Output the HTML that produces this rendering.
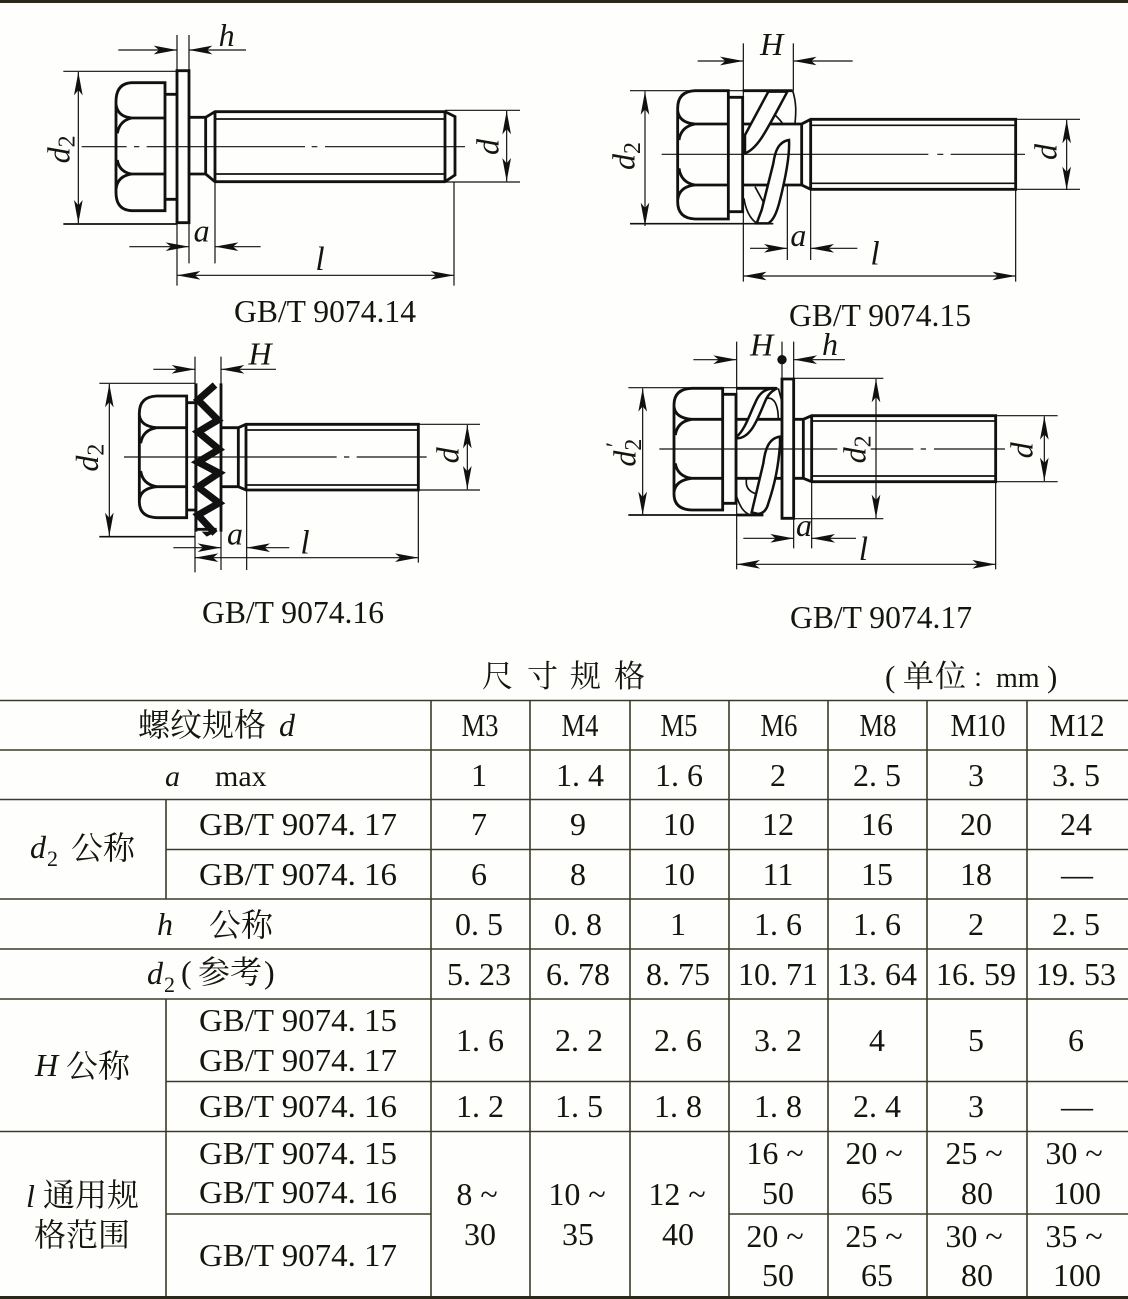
<!DOCTYPE html>
<html><head><meta charset="utf-8">
<style>
html,body{margin:0;padding:0;background:#fefefc}
svg{display:block}
text{font-family:"Liberation Serif","Noto Serif CJK SC",serif;fill:#15150f}
.i{font-style:italic}
.f line,.f path{fill:none;stroke:#111}
.k{stroke-width:8.5}
.m{stroke-width:5}
.t{stroke-width:3.6}
.f path.w{fill:#fefefc;stroke-width:7.5}
.tb{font-size:32px}
</style></head>
<body>
<svg xmlns="http://www.w3.org/2000/svg" width="1128" height="1299" viewBox="0 0 1128 1299">
<defs>
<marker id="ar" markerUnits="userSpaceOnUse" markerWidth="72" markerHeight="30" refX="70" refY="15" orient="auto"><path d="M70 15 L0 2 L16 15 L0 28Z" style="fill:#111;stroke:none"/></marker>
<marker id="as" markerUnits="userSpaceOnUse" markerWidth="72" markerHeight="30" refX="70" refY="15" orient="auto-start-reverse"><path d="M70 15 L0 2 L16 15 L0 28Z" style="fill:#111;stroke:none"/></marker>
</defs>
<rect width="1128" height="1299" fill="#fefefc"/>
<rect x="0" y="0" width="1128" height="3" fill="#2a281a"/>

<!-- FIG 1 -->
<g class="f" transform="translate(30,0) scale(.33333)">
<path class="k" d="M405 248H305Q258 250 258 305V577Q258 630 305 632H405ZM258 312Q262 350 305 354H405M262 400Q268 362 305 354M262 480Q268 516 305 522H405M258 568Q262 528 305 522"/>
<path class="k" d="M405 283H441M405 598H441"/>
<path class="k" d="M441 212H477V668H441Z"/>
<path class="k" d="M477 352H527M477 522H527M527 352V522M527 352L555 335H1245L1275 350V525L1245 545H555L527 522M555 335V545M1245 335V545"/>
<path class="m" d="M555 357H1245M555 522H1245"/>
<path class="t" d="M155 440H290M312 440H328M350 440H825M845 440H862M885 440H1305"/>
<path class="t" d="M441 105V857M477 105V790M555 545V790M1272 545V857M100 214H441M1245 331H1470M1245 546H1470"/>
<path class="m" d="M100 672H441"/>
<line class="t" x1="265" y1="150" x2="441" y2="150" marker-end="url(#ar)"/>
<line class="t" x1="648" y1="150" x2="477" y2="150" marker-end="url(#ar)"/>
<line class="t" x1="145" y1="216" x2="145" y2="670" marker-start="url(#as)" marker-end="url(#as)"/>
<line class="t" x1="1430" y1="333" x2="1430" y2="544" marker-start="url(#as)" marker-end="url(#as)"/>
<line class="t" x1="298" y1="740" x2="477" y2="740" marker-end="url(#ar)"/>
<line class="t" x1="692" y1="740" x2="555" y2="740" marker-end="url(#ar)"/>
<line class="t" x1="441" y1="826" x2="1272" y2="826" marker-start="url(#as)" marker-end="url(#as)"/>
<text class="i" font-size="96" x="590" y="138" text-anchor="middle">h</text>
<text class="i" font-size="96" x="515" y="725" text-anchor="middle">a</text>
<text class="i" font-size="100" x="870" y="810" text-anchor="middle">l</text>
<text class="i" font-size="96" transform="translate(1405,465) rotate(-90)">d</text>
<text class="i" font-size="96" transform="translate(118,490) rotate(-90)">d<tspan font-size="72" font-style="normal" dy="16">2</tspan></text>
</g>
<text x="325" y="322" font-size="31.5" text-anchor="middle" textLength="182" lengthAdjust="spacingAndGlyphs">GB/T 9074.14</text>

<!-- FIG 2 -->
<g class="f" transform="translate(590,20) scale(.33333)">
<path class="k" d="M415 212H315Q263 214 263 265V545Q263 595 315 597H415ZM263 272Q267 308 315 312H415M267 360Q273 320 315 312M267 445Q273 488 315 495H415M263 540Q267 500 315 495"/>
<path class="k" d="M415 232H458V575H415"/>
<path class="k" d="M458 312H635M458 495H640M635 312V495M635 312L662 298H1277V508H662L635 495M662 298V508"/>
<path class="m" d="M662 316H1277M662 490H1277"/>
<path class="m" d="M540 270C555 285 572 300 577 310M608 212C620 250 618 280 615 310"/>
<path class="m" d="M495 500L525 555M462 535C467 570 480 595 500 610"/>
<path class="w" d="M465 345L535 215H592C530 330 505 385 465 400Z"/>
<path class="w" d="M597 360C565 365 555 395 550 430L515 570L500 610H535C550 600 560 580 570 540C585 480 600 410 597 360Z"/>
<path class="k" d="M458 212H608"/>
<path class="t" d="M215 403H1015M1042 403H1060M1082 403H1305"/>
<path class="t" d="M460 70V785M610 70V212M592 495V720M662 508V720M1277 298V785M120 212H460M1277 298H1470M1277 508H1470"/>
<path class="m" d="M120 611H550"/>
<line class="t" x1="323" y1="123" x2="460" y2="123" marker-end="url(#ar)"/>
<line class="t" x1="788" y1="123" x2="610" y2="123" marker-end="url(#ar)"/>
<line class="t" x1="165" y1="214" x2="165" y2="618" marker-start="url(#as)" marker-end="url(#as)"/>
<line class="t" x1="1430" y1="300" x2="1430" y2="510" marker-start="url(#as)" marker-end="url(#as)"/>
<line class="t" x1="480" y1="685" x2="592" y2="685" marker-end="url(#ar)"/>
<line class="t" x1="802" y1="685" x2="662" y2="685" marker-end="url(#ar)"/>
<line class="t" x1="460" y1="768" x2="1277" y2="768" marker-start="url(#as)" marker-end="url(#as)"/>
<text class="i" font-size="96" x="545" y="105" text-anchor="middle">H</text>
<text class="i" font-size="96" x="625" y="678" text-anchor="middle">a</text>
<text class="i" font-size="100" x="855" y="733" text-anchor="middle">l</text>
<text class="i" font-size="96" transform="translate(1400,420) rotate(-90)">d</text>
<text class="i" font-size="96" transform="translate(134,450) rotate(-90)">d<tspan font-size="72" font-style="normal" dy="16">2</tspan></text>
</g>
<text x="880" y="326" font-size="31.5" text-anchor="middle" textLength="182" lengthAdjust="spacingAndGlyphs">GB/T 9074.15</text>

<!-- FIG 3 -->
<g class="f" transform="translate(60,335) scale(.33333)">
<path class="k" d="M380 183H290Q238 185 238 235V500Q238 546 290 548H380ZM238 240Q242 274 290 278H380M242 325Q248 285 290 278M242 408Q248 448 290 455H380M238 495Q242 460 290 455"/>
<path class="k" d="M380 203H405M380 525H405"/>
<path class="k" d="M408 145V590M483 145V590"/>
<path d="M465 150L414 195L474 255L414 291L477 343L414 381L477 414L414 456L477 504L414 540L465 595" style="stroke-width:21;stroke:#111;fill:none;stroke-linejoin:miter"/>
<path d="M470 590L440 605L425 590Z" style="fill:#111;stroke:none"/>
<path class="k" d="M408 583H470"/>
<path class="k" d="M483 278H535M483 455H535M535 278V455M535 278L558 268H1075V465H558L535 455M558 268V465"/>
<path class="m" d="M558 285H1075M558 450H1075"/>
<path class="t" d="M192 366H830M852 366H868M890 366H1100"/>
<path class="t" d="M405 65V712M483 65V705M560 465V705M1075 465V683M118 145H405M1075 268H1260M1075 465H1260"/>
<path class="m" d="M118 605H405"/>
<line class="t" x1="280" y1="103" x2="405" y2="103" marker-end="url(#ar)"/>
<line class="t" x1="648" y1="103" x2="483" y2="103" marker-end="url(#ar)"/>
<line class="t" x1="148" y1="147" x2="148" y2="603" marker-start="url(#as)" marker-end="url(#as)"/>
<line class="t" x1="1222" y1="270" x2="1222" y2="463" marker-start="url(#as)" marker-end="url(#as)"/>
<line class="t" x1="340" y1="638" x2="483" y2="638" marker-end="url(#ar)"/>
<line class="t" x1="688" y1="638" x2="560" y2="638" marker-end="url(#ar)"/>
<line class="t" x1="405" y1="668" x2="1075" y2="668" marker-start="url(#as)" marker-end="url(#as)"/>
<text class="i" font-size="96" x="600" y="88" text-anchor="middle">H</text>
<text class="i" font-size="96" x="525" y="628" text-anchor="middle">a</text>
<text class="i" font-size="100" x="735" y="655" text-anchor="middle">l</text>
<text class="i" font-size="96" transform="translate(1195,385) rotate(-90)">d</text>
<text class="i" font-size="96" transform="translate(114,410) rotate(-90)">d<tspan font-size="72" font-style="normal" dy="16">2</tspan></text>
</g>
<text x="293" y="623" font-size="31.5" text-anchor="middle" textLength="182" lengthAdjust="spacingAndGlyphs">GB/T 9074.16</text>

<!-- FIG 4 -->
<g class="f" transform="translate(600,335) scale(.33333)">
<path class="k" d="M368 160H275Q222 162 222 210V477Q222 523 275 525H368ZM222 215Q226 249 275 253H368M226 300Q232 260 275 253M226 385Q232 424 275 430H368M222 472Q226 436 275 430"/>
<path class="k" d="M368 178H408V505H368"/>
<path class="k" d="M546 132H581V550H546Z"/>
<path class="k" d="M408 253H546M408 430H546M581 253H610M581 430H610M610 253V430M610 253L635 242H1187V440H635L610 430M635 242V440"/>
<path class="m" d="M635 258H1187M635 423H1187"/>
<path class="m" d="M500 190C525 185 535 215 535 255M410 485C420 515 430 530 445 537M440 430C435 455 445 470 470 477M535 160L547 205"/>
<path class="w" d="M410 305C435 285 450 235 465 205C475 180 490 160 525 160H532C520 165 505 175 495 200C475 245 455 310 410 310Z"/>
<path class="w" d="M540 305C505 310 495 345 490 385L455 532L475 537C490 535 500 525 505 505C525 445 535 395 540 330Z"/>
<path class="k" d="M410 160H530M410 540H490"/>
<path class="t" d="M178 342H712M812 342H940M962 342H978M1002 342H1215"/>
<path class="t" d="M410 20V703M546 20V132M581 20V640M635 440V640M1187 440V703M85 158H530M581 130H850M1187 242H1373M1187 440H1373M546 551H850"/>
<path class="m" d="M85 540H490"/>
<circle cx="546" cy="74" r="14" style="fill:#111"/>
<line class="t" x1="280" y1="74" x2="410" y2="74" marker-end="url(#ar)"/>
<line class="t" x1="735" y1="74" x2="581" y2="74" marker-end="url(#ar)"/>
<line class="t" x1="128" y1="160" x2="128" y2="540" marker-start="url(#as)" marker-end="url(#as)"/>
<line class="t" x1="828" y1="132" x2="828" y2="549" marker-start="url(#as)" marker-end="url(#as)"/>
<line class="t" x1="1333" y1="244" x2="1333" y2="438" marker-start="url(#as)" marker-end="url(#as)"/>
<line class="t" x1="430" y1="610" x2="581" y2="610" marker-end="url(#ar)"/>
<line class="t" x1="768" y1="610" x2="635" y2="610" marker-end="url(#ar)"/>
<line class="t" x1="410" y1="688" x2="1187" y2="688" marker-start="url(#as)" marker-end="url(#as)"/>
<text class="i" font-size="96" x="485" y="62" text-anchor="middle">H</text>
<text class="i" font-size="96" x="690" y="60" text-anchor="middle">h</text>
<text class="i" font-size="96" x="612" y="603" text-anchor="middle">a</text>
<text class="i" font-size="100" x="790" y="675" text-anchor="middle">l</text>
<text class="i" font-size="96" transform="translate(1298,370) rotate(-90)">d</text>
<text class="i" font-size="96" transform="translate(796,385) rotate(-90)">d<tspan font-size="72" font-style="normal" dy="16">2</tspan></text>
<text class="i" font-size="96" transform="translate(107,395) rotate(-90)">d<tspan font-size="72" font-style="normal" dy="16">2</tspan><tspan font-size="72" dx="-30" dy="-56">′</tspan></text>
</g>
<text x="881" y="628" font-size="31.5" text-anchor="middle" textLength="182" lengthAdjust="spacingAndGlyphs">GB/T 9074.17</text>

<!-- TITLE -->
<g font-size="31">
<text x="482" y="687">尺</text><text x="527" y="687">寸</text><text x="570" y="687">规</text><text x="614" y="687">格</text>
<text x="885" y="687">(</text><text x="903" y="687">单</text><text x="935" y="687">位</text>
<text x="972" y="687" font-size="26">：</text><text x="996" y="687" font-size="28">mm</text><text x="1047" y="687">)</text>
</g>

<!-- TABLE LINES -->
<g stroke="#3c3b2a" stroke-width="1.6" fill="none">
<path d="M0 700.5H1128M0 750H1128M0 799.5H1128M166 849.5H1128M0 899H1128M0 949H1128M0 999H1128M166 1081.5H1128M0 1131.5H1128M166 1214H431M729 1214H1128"/>
<path d="M431 700V1297M530 700V1297M630 700V1297M729 700V1297M828 700V1297M927 700V1297M1027 700V1297M166 799.5V899M166 999V1297"/>
</g>
<rect x="0" y="1296" width="1128" height="3" fill="#2a281a"/>

<!-- TABLE LEFT LABELS -->
<g class="tb">
<text x="138" y="736">螺纹规格</text><text class="i" x="279" y="736">d</text>
<text class="i" x="165" y="786" font-size="30">a</text><text x="215" y="786" font-size="30">max</text>
<text class="i" x="30" y="858">d</text><text x="47" y="866" font-size="22">2</text><text x="71" y="859">公称</text>
<text class="i" x="157" y="935">h</text><text x="209" y="936">公称</text>
<text class="i" x="147" y="984">d</text><text x="164" y="992" font-size="22">2</text><text x="181" y="983">(</text><text x="198" y="983">参考</text><text x="264" y="983">)</text>
<text class="i" x="35" y="1076">H</text><text x="66" y="1077">公称</text>
<text class="i" x="26" y="1207">l</text><text x="43" y="1206">通用规</text>
<text x="34" y="1246">格范围</text>
</g>
<g class="tb" text-anchor="middle">
<g font-size="32">
<text x="298" y="835" textLength="198" lengthAdjust="spacingAndGlyphs">GB/T 9074. 17</text>
<text x="298" y="885" textLength="198" lengthAdjust="spacingAndGlyphs">GB/T 9074. 16</text>
<text x="298" y="1031" textLength="198" lengthAdjust="spacingAndGlyphs">GB/T 9074. 15</text>
<text x="298" y="1071" textLength="198" lengthAdjust="spacingAndGlyphs">GB/T 9074. 17</text>
<text x="298" y="1117" textLength="198" lengthAdjust="spacingAndGlyphs">GB/T 9074. 16</text>
<text x="298" y="1164" textLength="198" lengthAdjust="spacingAndGlyphs">GB/T 9074. 15</text>
<text x="298" y="1203" textLength="198" lengthAdjust="spacingAndGlyphs">GB/T 9074. 16</text>
<text x="298" y="1266" textLength="198" lengthAdjust="spacingAndGlyphs">GB/T 9074. 17</text>
</g>
<!-- header -->
<text x="480" y="736" textLength="37" lengthAdjust="spacingAndGlyphs">M3</text>
<text x="580" y="736" textLength="37" lengthAdjust="spacingAndGlyphs">M4</text>
<text x="679" y="736" textLength="37" lengthAdjust="spacingAndGlyphs">M5</text>
<text x="779" y="736" textLength="37" lengthAdjust="spacingAndGlyphs">M6</text>
<text x="878" y="736" textLength="37" lengthAdjust="spacingAndGlyphs">M8</text>
<text x="978" y="736" textLength="55" lengthAdjust="spacingAndGlyphs">M10</text>
<text x="1077" y="736" textLength="55" lengthAdjust="spacingAndGlyphs">M12</text>
<!-- a -->
<text x="479" y="786">1</text><text x="580" y="786">1. 4</text><text x="679" y="786">1. 6</text><text x="778" y="786">2</text><text x="877" y="786">2. 5</text><text x="976" y="786">3</text><text x="1076" y="786">3. 5</text>
<!-- d2 17 -->
<text x="479" y="835">7</text><text x="578" y="835">9</text><text x="679" y="835">10</text><text x="778" y="835">12</text><text x="877" y="835">16</text><text x="976" y="835">20</text><text x="1076" y="835">24</text>
<!-- d2 16 -->
<text x="479" y="885">6</text><text x="578" y="885">8</text><text x="679" y="885">10</text><text x="778" y="885">11</text><text x="877" y="885">15</text><text x="976" y="885">18</text><text x="1077" y="885">—</text>
<!-- h -->
<text x="479" y="935">0. 5</text><text x="578" y="935">0. 8</text><text x="678" y="935">1</text><text x="778" y="935">1. 6</text><text x="877" y="935">1. 6</text><text x="976" y="935">2</text><text x="1076" y="935">2. 5</text>
<!-- d2 ref -->
<text x="479" y="985">5. 23</text><text x="578" y="985">6. 78</text><text x="678" y="985">8. 75</text><text x="778" y="985">10. 71</text><text x="877" y="985">13. 64</text><text x="976" y="985">16. 59</text><text x="1076" y="985">19. 53</text>
<!-- H -->
<text x="480" y="1051">1. 6</text><text x="579" y="1051">2. 2</text><text x="678" y="1051">2. 6</text><text x="778" y="1051">3. 2</text><text x="877" y="1051">4</text><text x="976" y="1051">5</text><text x="1076" y="1051">6</text>
<text x="480" y="1117">1. 2</text><text x="579" y="1117">1. 5</text><text x="678" y="1117">1. 8</text><text x="778" y="1117">1. 8</text><text x="877" y="1117">2. 4</text><text x="976" y="1117">3</text><text x="1077" y="1117">—</text>
<!-- l -->
<text x="477" y="1205">8 ~</text><text x="480" y="1245">30</text>
<text x="577" y="1205">10 ~</text><text x="578" y="1245">35</text>
<text x="677" y="1205">12 ~</text><text x="678" y="1245">40</text>
<text x="775" y="1164">16 ~</text><text x="778" y="1204">50</text>
<text x="874" y="1164">20 ~</text><text x="877" y="1204">65</text>
<text x="974" y="1164">25 ~</text><text x="977" y="1204">80</text>
<text x="1074" y="1164">30 ~</text><text x="1077" y="1204">100</text>
<text x="775" y="1247">20 ~</text><text x="778" y="1286">50</text>
<text x="874" y="1247">25 ~</text><text x="877" y="1286">65</text>
<text x="974" y="1247">30 ~</text><text x="977" y="1286">80</text>
<text x="1074" y="1247">35 ~</text><text x="1077" y="1286">100</text>
</g>
</svg>
</body></html>
